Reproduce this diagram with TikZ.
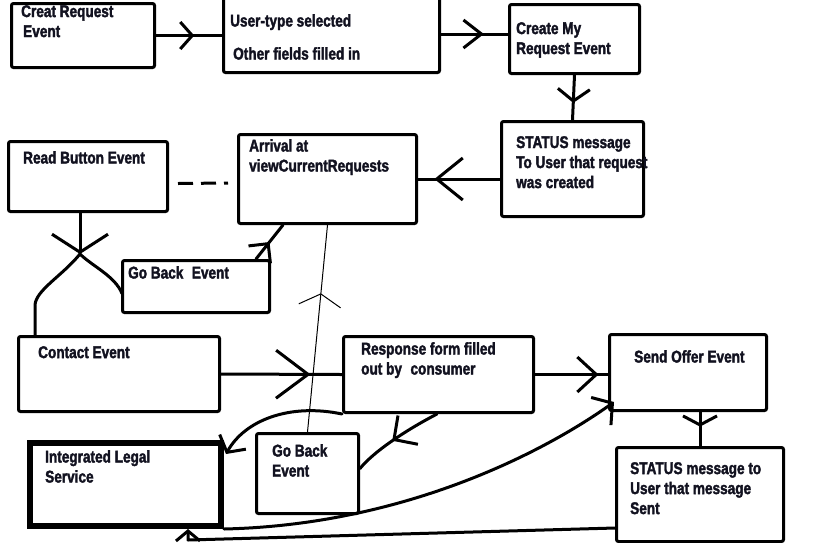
\documentclass[tikz,border=0pt]{standalone}
\usepackage{fontspec}
\newfontfamily\handfont{Liberation Sans}[FakeStretch=0.8, FakeBold=2]
\usetikzlibrary{arrows.meta,decorations.markings,calc}
\definecolor{ink}{RGB}{18,18,32}
\begin{document}
\begin{tikzpicture}[x=1pt,y=-1pt,
  box/.style={draw=black, line width=3pt, rounded corners=2pt, anchor=north west, inner sep=0pt},
  heavybox/.style={box, line width=6pt, rounded corners=0pt},
  txt/.style={font=\handfont\bfseries\fontsize{17}{20}\selectfont, text=ink, inner sep=0pt, anchor=north west, align=left},
  conn/.style={draw=black, line width=3pt, line cap=round, line join=round},
  thinconn/.style={draw=black, line width=1pt, line cap=round},
  chev/.style n args={3}{postaction={decorate}, decoration={markings,
      mark=at position #1 with {\arrow{Straight Barb[length=#2, width=#3]}}}},
]
\fill[white] (0,0) rectangle (838,542);
\useasboundingbox (0,0) rectangle (838,542);

% boxes
\node[box, minimum width=143pt, minimum height=64pt] (b1) at (10,2) {};
\node[box, minimum width=216pt, minimum height=77pt] (b2) at (222,-6) {};
\node[box, minimum width=130pt, minimum height=69pt] (b3) at (508,3) {};
\node[box, minimum width=142pt, minimum height=95pt] (b4) at (500,120) {};
\node[box, minimum width=178pt, minimum height=89pt] (b5) at (237,133) {};
\node[box, minimum width=159pt, minimum height=70pt] (b6) at (7,140) {};
\node[box, minimum width=147pt, minimum height=52pt] (b7) at (121,259) {};
\node[box, minimum width=201pt, minimum height=75pt] (b8) at (17,335) {};
\node[box, minimum width=190pt, minimum height=76pt] (b9) at (342,335) {};
\node[box, minimum width=157pt, minimum height=76pt] (b10) at (608,333) {};
\node[box, minimum width=167pt, minimum height=94pt] (b11) at (615,446) {};
\node[heavybox, minimum width=191pt, minimum height=83pt] (b12) at (27,440) {};
\node[box, minimum width=102pt, minimum height=80pt] (b13) at (255,432) {};

% labels
\node[txt] (t1) at (21,5) {Creat Request\\\hspace*{2pt}Event};
\node[txt] (t2) at (230,14) {User-type selected\\[13pt]\hspace*{3pt}Other fields filled in};
\node[txt] (t3) at (516,22) {Create My\\Request Event};
\node[txt] (t4) at (516,136) {STATUS message\\To User that request\\was created};
\node[txt] (t5) at (249,139) {Arrival at\\viewCurrentRequests};
\node[txt] (t6) at (23,151) {Read Button Event};
\node[txt] (t7) at (128,266) {Go Back\enspace Event};
\node[txt] (t8) at (38,346) {Contact Event};
\node[txt] (t9) at (361,342) {Response form filled\\out by\enspace consumer};
\node[txt] (t10) at (634,350) {Send Offer Event};
\node[txt] (t11) at (630,462) {STATUS message to\\User that message\\Sent};
\node[txt] (t12) at (45,450) {Integrated Legal\\Service};
\node[txt] (t13) at (272,444) {Go Back\\Event};

% junction below the read button
\coordinate (j1) at (80,254);

% connectors
\draw[conn, chev={0.58}{12pt}{27pt}] (b1.east) -- (b1.east -| b2.west);
\draw[conn, chev={0.64}{18pt}{28pt}] (b2.east) -- (b2.east -| b3.west);
\draw[conn, chev={0.62}{12pt}{32pt}] (b3.south) -- (b4.north);
\draw[conn, chev={0.8}{26pt}{42pt}] (b4.west |- b5.east) -- (b5.east);
\draw[conn, dash pattern=on 15pt off 8pt, line cap=butt]
  ($(b6.east)+(9,7)$) -- ($(b5.west)+(-9,4)$);
\draw[conn, -{Straight Barb[length=18pt, width=56pt]}] (b6.south -| j1) -- (j1);
\draw[conn] (j1) .. controls (92,266) and (115,276) .. ($(b7.west)+(1,7)$);
\draw[conn] (j1) .. controls (62,276) and (36,290) .. ($(b8.north west)+(18,-30)$) -- ($(b8.north west)+(18,0)$);
\draw[conn, chev={0.5}{14pt}{28pt}] ($(b7.north east)+(-15,0)$) -- ($(b5.south west)+(46,0)$);
\draw[thinconn, chev={0.67}{12pt}{42pt}] (b13.north) -- (b5.south);
\draw[conn, chev={0.74}{32pt}{48pt}] (b8.east) -- (b9.west);
\draw[conn, chev={0.87}{19pt}{35pt}] (b9.east) -- (b9.east -| b10.west);
\draw[conn, chev={0.43}{9pt}{34pt}] (b11.north |- b10.south) -- (b11.north);
\draw[conn, chev={0.55}{17pt}{35pt}] ($(b9.south west)+(95,0)$) .. controls (410,428) and (375,450) .. ($(b13.east)+(0,-5)$);
\draw[conn, -{Straight Barb[length=12pt, width=30pt]}] (b9.south west) .. controls (290,403) and (245,420) .. ($(b12.north east)+(2,14)$);
\draw[conn, -{Straight Barb[length=14pt, width=34pt]}] (b12.south east) .. controls (400,525) and (540,455) .. ($(b10.south west)+(6,-10)$);
\draw[conn, -{Straight Barb[length=10pt, width=24pt]}] ($(b11.south west)+(0,-15)$) -- ($(b12.south east)+(-36,11)$) -- ($(b12.south east)+(-36,0)$);
\end{tikzpicture}
\end{document}
